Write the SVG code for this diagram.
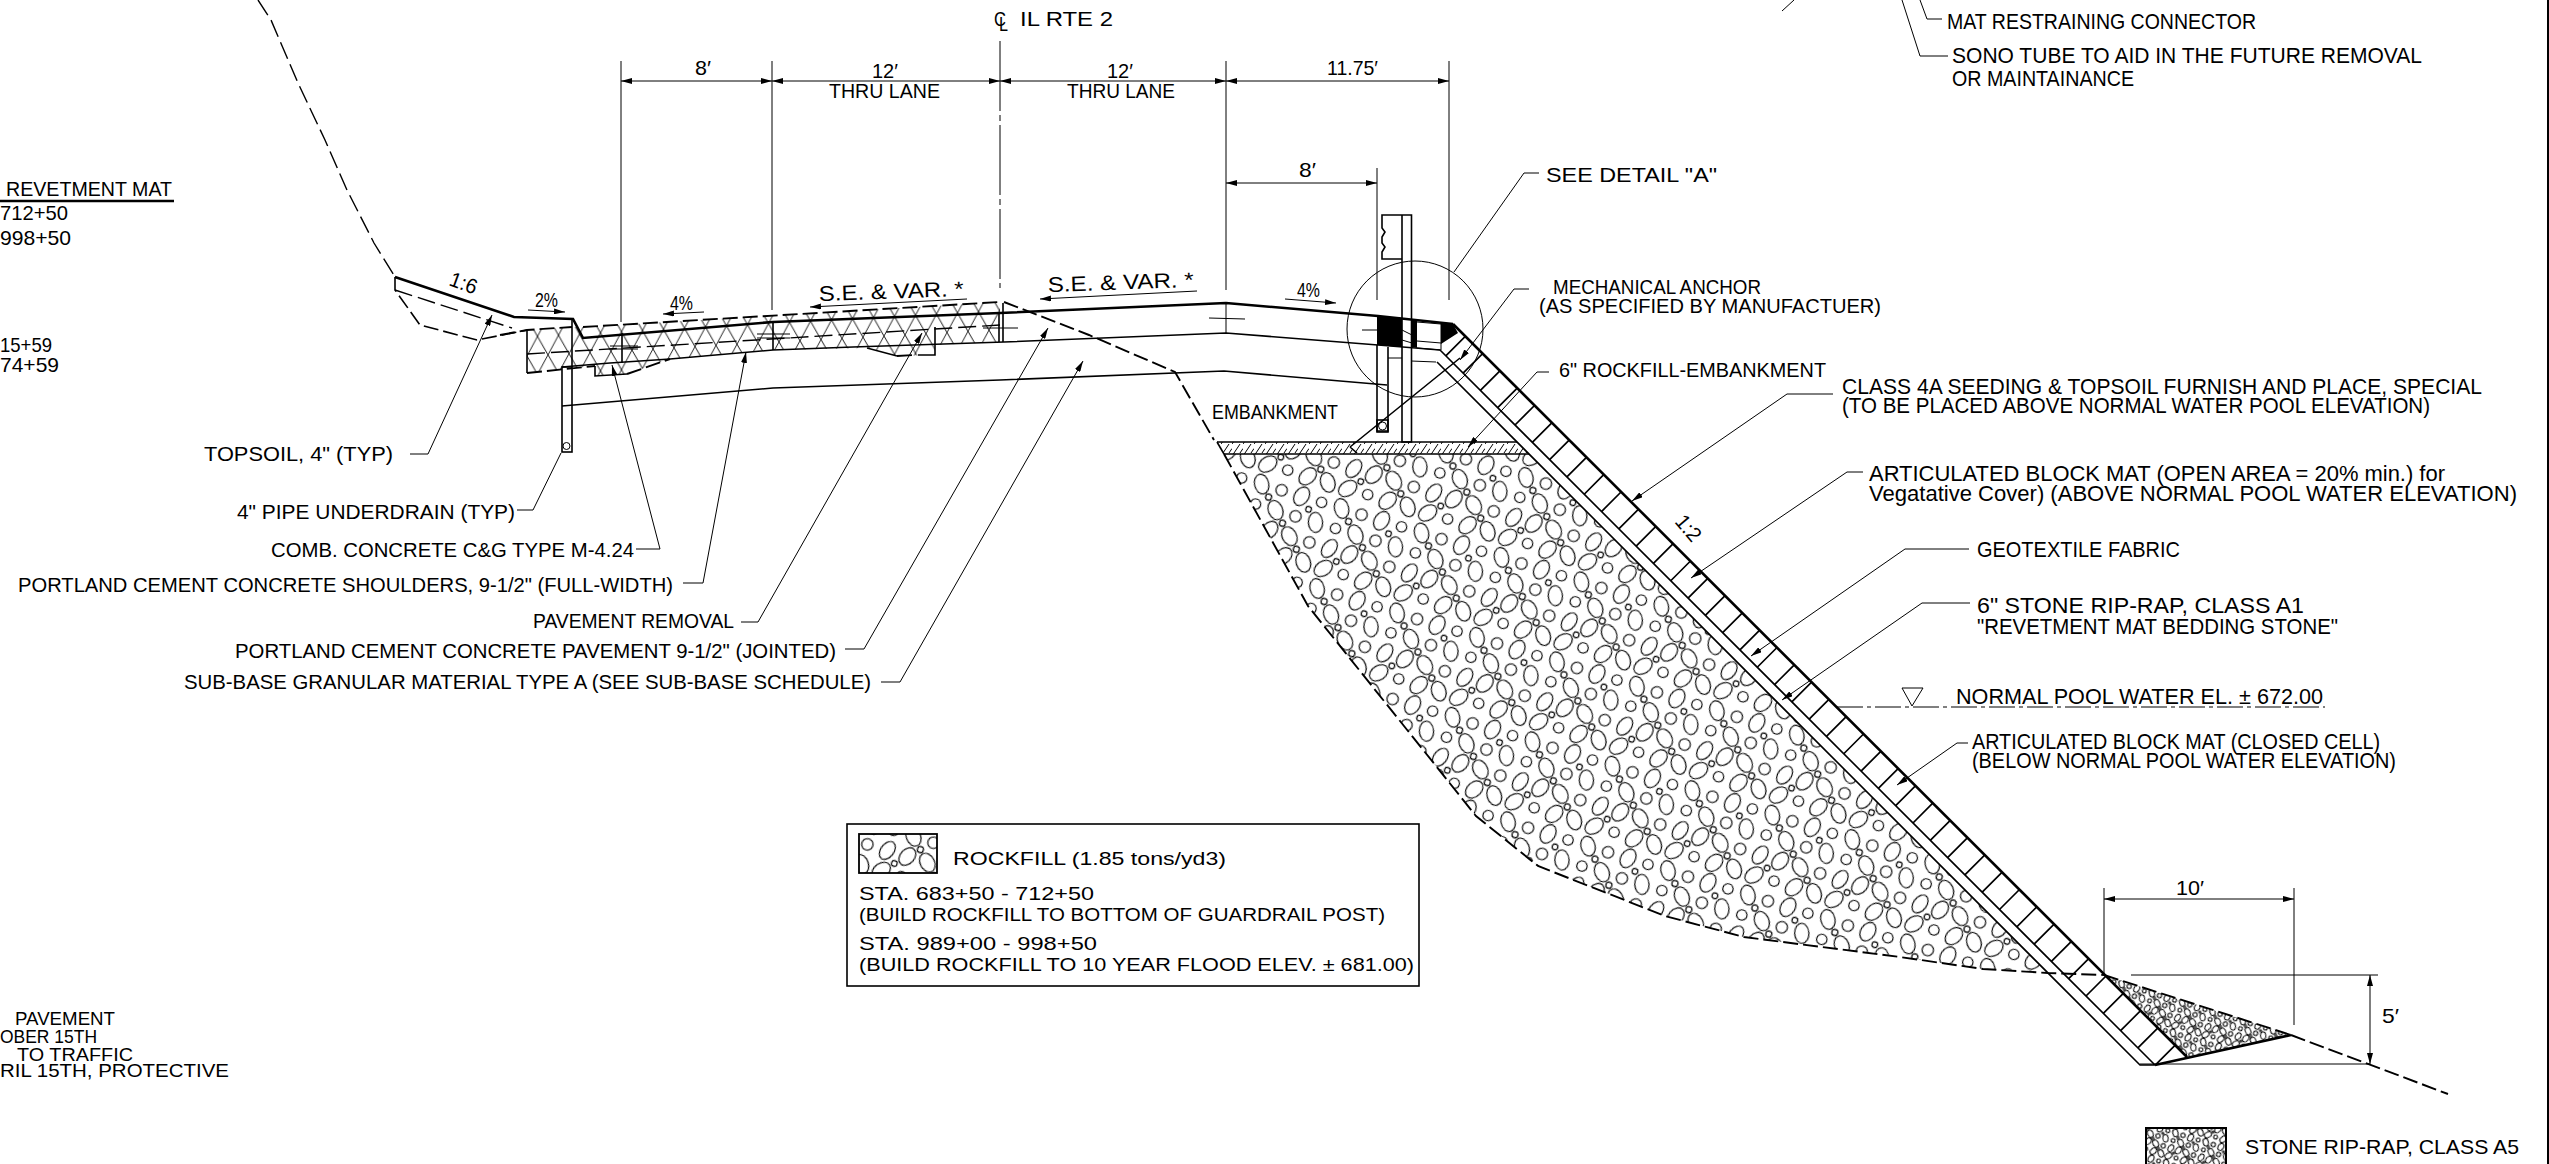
<svg xmlns="http://www.w3.org/2000/svg" width="2549" height="1164" viewBox="0 0 2549 1164">
<style>
text{font-family:"Liberation Sans",Arial,sans-serif;font-size:21px;fill:#000}
.s{font-size:18.5px}
.l{font-size:21.5px}
.n,.m,.b,.d,.dl{fill:none;stroke:#000;stroke-linejoin:miter}
.n{stroke-width:1}
.m{stroke-width:1.6}
.b{stroke-width:2.6}
.d{stroke-width:1.9;stroke-dasharray:15 5}
.dl{stroke-width:1.4;stroke-dasharray:18 6}
.ar{marker-end:url(#a)}
.dim{marker-start:url(#a);marker-end:url(#a)}
</style>
<defs>
<marker id="a" markerUnits="userSpaceOnUse" markerWidth="12" markerHeight="6" refX="11" refY="3" orient="auto-start-reverse"><path d="M0,0L11,3L0,6z"/></marker>
<g id="rocks" fill="none">
<ellipse cx="11" cy="11" rx="7.5" ry="10.5" transform="rotate(-30 11 11)"/>
<circle cx="33" cy="11" r="6"/>
<ellipse cx="55" cy="11" rx="7.5" ry="10.5" transform="rotate(15 55 11)"/>
<circle cx="77" cy="11" r="5.5"/>
<circle cx="11" cy="33" r="5.5"/>
<ellipse cx="33" cy="33" rx="7.5" ry="10.5" transform="rotate(-40 33 33)"/>
<circle cx="55" cy="33" r="6"/>
<ellipse cx="77" cy="33" rx="7.5" ry="10.5" transform="rotate(-20 77 33)"/>
<ellipse cx="11" cy="55" rx="7" ry="10.5" transform="rotate(20 11 55)"/>
<ellipse cx="33" cy="55" rx="7.5" ry="10.5" transform="rotate(25 33 55)"/>
<ellipse cx="55" cy="55" rx="7.5" ry="10.5" transform="rotate(-45 55 55)"/>
<circle cx="77" cy="55" r="6"/>
<ellipse cx="11" cy="77" rx="7.5" ry="10.5" transform="rotate(40 11 77)"/>
<circle cx="33" cy="77" r="5.5"/>
<ellipse cx="55" cy="77" rx="7.5" ry="10.5" transform="rotate(30 55 77)"/>
<ellipse cx="77" cy="77" rx="7.5" ry="10.5" transform="rotate(-35 77 77)"/>
<circle cx="22" cy="22" r="3.2"/><circle cx="66" cy="22" r="3"/><circle cx="44" cy="44" r="3.2"/><circle cx="22" cy="66" r="3"/><circle cx="66" cy="66" r="3.2"/>
</g>
<pattern id="rock" width="88" height="88" patternUnits="userSpaceOnUse" patternTransform="rotate(17) scale(.95)"><use href="#rocks" stroke="#000" stroke-width="1.2"/></pattern>
<pattern id="rip" width="88" height="88" patternUnits="userSpaceOnUse" patternTransform="scale(.36) rotate(17)"><use href="#rocks" stroke="#000" stroke-width="2.8"/></pattern>
<pattern id="tri" width="21" height="38" patternUnits="userSpaceOnUse" patternTransform="translate(527 318) skewY(-3.2)"><path d="M0,0L21,38M21,0L0,38" stroke="#000" stroke-width=".9" fill="none"/></pattern>
<pattern id="hatch" width="11" height="12" patternUnits="userSpaceOnUse"><path d="M0,12L8,0M11,4.5L8,9M-3,4.5L-6,9" stroke="#000" stroke-width="1" fill="none"/></pattern>
</defs>
<rect width="2549" height="1164" fill="#fff"/>

<g id="pavement-section">
<polygon points="527,330 572,327 583,327 1000,302 1000,342 935,345 935,355 897,356 867,348 773,350 670,359 627,374 595,376 595,366 527,373" fill="url(#tri)"/>
<polyline class="dl" points="258,0 271,20 298,83 325,140 347,190 374,243 395,277"/>
<polyline class="b" points="395,277 514,317 573,319 583,338 773,322 1000,313 1226,303 1378,316 1453,324"/>
<polyline class="m" points="395,277 395,290 420,325 477,340 528,330" stroke-dasharray="15 5"/>
<polyline class="dl" points="395,290 512,328"/>
<polyline class="d" points="500,335 527,330 572,327"/>
<polyline class="d" points="583,327 1000,302"/>
<polyline class="dl" points="527,354 1000,325"/>
<polyline class="m" points="527,330 527,373"/>
<polyline class="d" points="527,373 595,366"/>
<polyline class="m" points="562,367 610,363 670,359 773,350 853,347 1004,342 1226,333 1378,345 1440,350"/>
<polyline class="m" points="595,366 595,376 627,374"/>
<polyline class="d" points="627,374 670,359"/>
<polyline class="m" points="867,348 897,356"/>
<polyline class="d" points="897,356 915,355"/>
<polyline class="m" points="918,355 935,355 935,327"/>
<path class="m" d="M622,333V363M773,322V350M999,313V342M1003,303V342"/>
<path class="n" d="M610,346H638M610,349H638M757,334H790M757,338H790M983,328H1018M1209,318L1245,319M1362,330H1378"/>
<polyline class="m" points="562,406 773,388 1000,380 1224,371 1387,385"/>
<polyline class="d" points="1004,302 1089,335 1175,372 1214,440"/>
<rect class="m" x="562" y="367" width="10" height="85"/>
<path class="m" d="M572,319V367"/>
<circle class="n" cx="566.5" cy="446" r="3.5"/>
</g>

<g id="guardrail">
<path class="m" d="M1402,215H1411.5V442H1402zM1402,215H1382V228L1385,232L1382,237V243L1385,247L1382,252V259H1402"/>
<path class="m" d="M1377,345V431H1388V347"/>
<rect class="m" x="1377" y="420" width="11" height="12"/>
<circle class="n" cx="1382.5" cy="426" r="4"/>
<path d="M1377,316L1402,318V347L1377,345zM1412,320L1417,321V348L1412,347zM1441,323L1453,324L1458,333L1441,344z"/>
<path class="n" d="M1417,322L1441,324V350L1417,348M1402,330L1412,335M1402,340L1412,343M1417,341L1441,343M1388,358H1402M1411,361L1436,362"/>
<circle class="n" cx="1415" cy="329" r="68"/>
<path class="m" d="M1350,447L1460,358M1350,447L1357,453"/>
</g>

<g id="slope-mat">
<polygon points="1217,442 1517,442 1529,454 1224,454" fill="url(#hatch)"/>
<path class="m" d="M1217,442H1517M1224,454H1529"/>
<path class="m" d="M1217,442L1224,454"/>
<polygon points="1224,454 1529,454 2048,973 1983,969 1900,957 1744,937 1665,916 1538,866 1476,816 1308,606" fill="url(#rock)"/>
<polyline class="d" points="1224,454 1308,606 1476,816 1538,866 1665,916 1744,937 1900,957 1983,969 2048,973 2104,975"/>
<polygon points="2104,975 2291,1035 2187,1057" fill="url(#rip)"/>
<path class="d" d="M2104,975L2291,1035"/>
<path class="b" d="M2155,1065L2291,1035"/>
<path class="m" d="M1440,350L2155,1065M1437,362L2140,1065H2155"/>
<line x1="1455.2" y1="345.2" x2="2172" y2="1062" stroke="#000" stroke-width="28.3" stroke-dasharray="1.7 22.77"/>
<path class="b" d="M1453,324L2187,1057"/>
<path class="d" d="M2291,1035L2448,1094"/>
<polygon class="n" points="1902,688 1923,688 1912,706"/>
<line class="n" x1="1837" y1="707" x2="2325" y2="707" stroke-dasharray="26 4 4 4"/>
</g>

<g id="connectors">
<path class="n" d="M621,61V322M772,61V310M1226,61V290M1226,303V333M1449,61V300M1377,168V300M2104,888V975M2294,888V1025M2131,975H2378M2140,1064H2370"/>
<line class="n" x1="1000" y1="41" x2="1000" y2="288" stroke-dasharray="70 4 6 4"/>
<path class="n dim" d="M621,81H772"/><path class="n dim" d="M772,81H1000"/><path class="n dim" d="M1000,81H1226"/><path class="n dim" d="M1226,81H1449"/>
<path class="n dim" d="M1226,183H1377"/><path class="n dim" d="M2104,899H2294"/><path class="n dim" d="M2370,975V1064"/>
<path class="n ar" d="M528,310L565,312"/><path class="n ar" d="M704,312L663,314"/><path class="n ar" d="M967,299L810,307"/><path class="n ar" d="M1197,291L1040,299"/><path class="n ar" d="M1285,299L1336,303"/>
<polyline class="n ar" points="410,454 428,454 492,315"/>
<polyline class="n" points="517,510 533,510 561,453"/>
<polyline class="n ar" points="636,549 660,549 612,365"/>
<polyline class="n ar" points="683,583 703,583 746,352"/>
<polyline class="n ar" points="741,622 758,622 922,333"/>
<polyline class="n ar" points="845,649 864,649 1048,328"/>
<polyline class="n ar" points="881,682 900,682 1083,361"/>
<polyline class="n" points="1539,173 1524,173 1454,272"/>
<polyline class="n ar" points="1529,289 1514,289 1460,360"/>
<polyline class="n ar" points="1549,372 1537,372 1468,447"/>
<polyline class="n ar" points="1833,394 1787,394 1632,501"/>
<polyline class="n ar" points="1863,472 1847,472 1691,578"/>
<polyline class="n ar" points="1969,549 1905,549 1751,656"/>
<polyline class="n ar" points="1970,603 1922,603 1782,700"/>
<polyline class="n ar" points="1968,743 1957,743 1897,785"/>
<path class="n" d="M1782,11L1794,0M1920,0L1927,19H1942M1902,0L1920,56H1948"/>
<path class="b" d="M0,201H174"/>
<line x1="2548" y1="0" x2="2548" y2="1164" stroke="#000" stroke-width="2"/>
</g>

<g id="legend-rockfill">
<rect class="m" x="847" y="824" width="572" height="162"/>
<rect x="859" y="834" width="78" height="39" fill="url(#rock)" stroke="#000" stroke-width="1.8"/>
<text class="s" x="953" y="865" textLength="273" lengthAdjust="spacingAndGlyphs">ROCKFILL (1.85 tons/yd3)</text>
<text class="s" x="859" y="900" textLength="235" lengthAdjust="spacingAndGlyphs">STA. 683+50 - 712+50</text>
<text class="s" x="859" y="921" textLength="526" lengthAdjust="spacingAndGlyphs">(BUILD ROCKFILL TO BOTTOM OF GUARDRAIL POST)</text>
<text class="s" x="859" y="950" textLength="238" lengthAdjust="spacingAndGlyphs">STA. 989+00 - 998+50</text>
<text class="s" x="859" y="971" textLength="555" lengthAdjust="spacingAndGlyphs">(BUILD ROCKFILL TO 10 YEAR FLOOD ELEV. ± 681.00)</text>
</g>

<g id="legend-riprap">
<rect x="2146" y="1128" width="80" height="38" fill="url(#rip)" stroke="#000" stroke-width="2"/>
<text x="2245" y="1154" textLength="274" lengthAdjust="spacingAndGlyphs">STONE RIP-RAP, CLASS A5</text>
</g>

<g id="labels">
<text x="994" y="26" textLength="12" lengthAdjust="spacingAndGlyphs">C</text>
<text x="999" y="31" textLength="9" lengthAdjust="spacingAndGlyphs">L</text>
<text x="1020" y="26" textLength="93" lengthAdjust="spacingAndGlyphs">IL RTE 2</text>
<text x="695" y="75" textLength="16" lengthAdjust="spacingAndGlyphs">8′</text>
<text x="872" y="78" textLength="26" lengthAdjust="spacingAndGlyphs">12′</text>
<text x="829" y="98" textLength="111" lengthAdjust="spacingAndGlyphs">THRU LANE</text>
<text x="1107" y="78" textLength="26" lengthAdjust="spacingAndGlyphs">12′</text>
<text x="1067" y="98" textLength="108" lengthAdjust="spacingAndGlyphs">THRU LANE</text>
<text x="1327" y="75" textLength="51" lengthAdjust="spacingAndGlyphs">11.75′</text>
<text x="1299" y="177" textLength="17" lengthAdjust="spacingAndGlyphs">8′</text>
<text x="1546" y="182" textLength="171" lengthAdjust="spacingAndGlyphs">SEE DETAIL "A"</text>
<text x="1553" y="294" textLength="208" lengthAdjust="spacingAndGlyphs">MECHANICAL ANCHOR</text>
<text x="1539" y="313" textLength="342" lengthAdjust="spacingAndGlyphs">(AS SPECIFIED BY MANUFACTUER)</text>
<text x="1559" y="377" textLength="267" lengthAdjust="spacingAndGlyphs">6" ROCKFILL-EMBANKMENT</text>
<text x="1212" y="419" textLength="126" lengthAdjust="spacingAndGlyphs">EMBANKMENT</text>
<text x="1297" y="297" textLength="23" lengthAdjust="spacingAndGlyphs">4%</text>
<text x="670" y="310" textLength="23" lengthAdjust="spacingAndGlyphs">4%</text>
<text x="535" y="307" textLength="23" lengthAdjust="spacingAndGlyphs">2%</text>
<text transform="translate(819 301) rotate(-2)" textLength="145" lengthAdjust="spacingAndGlyphs">S.E. &amp; VAR. *</text>
<text transform="translate(1048 292) rotate(-2)" textLength="146" lengthAdjust="spacingAndGlyphs">S.E. &amp; VAR. *</text>
<text transform="translate(448 285) rotate(20)" textLength="28" lengthAdjust="spacingAndGlyphs">1:6</text>
<text transform="translate(1674 522) rotate(50)" textLength="28" lengthAdjust="spacingAndGlyphs">1:2</text>
<text x="6" y="196" textLength="166" lengthAdjust="spacingAndGlyphs">REVETMENT MAT</text>
<text x="0" y="220" textLength="68" lengthAdjust="spacingAndGlyphs">712+50</text>
<text x="0" y="245" textLength="71" lengthAdjust="spacingAndGlyphs">998+50</text>
<text x="0" y="352" textLength="52" lengthAdjust="spacingAndGlyphs">15+59</text>
<text x="0" y="372" textLength="59" lengthAdjust="spacingAndGlyphs">74+59</text>
<text x="204" y="461" textLength="189" lengthAdjust="spacingAndGlyphs">TOPSOIL, 4" (TYP)</text>
<text x="237" y="519" textLength="278" lengthAdjust="spacingAndGlyphs">4" PIPE UNDERDRAIN (TYP)</text>
<text x="271" y="557" textLength="363" lengthAdjust="spacingAndGlyphs">COMB. CONCRETE C&amp;G TYPE M-4.24</text>
<text x="18" y="592" textLength="655" lengthAdjust="spacingAndGlyphs">PORTLAND CEMENT CONCRETE SHOULDERS, 9-1/2" (FULL-WIDTH)</text>
<text x="533" y="628" textLength="201" lengthAdjust="spacingAndGlyphs">PAVEMENT REMOVAL</text>
<text x="235" y="658" textLength="601" lengthAdjust="spacingAndGlyphs">PORTLAND CEMENT CONCRETE PAVEMENT 9-1/2" (JOINTED)</text>
<text x="184" y="689" textLength="687" lengthAdjust="spacingAndGlyphs">SUB-BASE GRANULAR MATERIAL TYPE A (SEE SUB-BASE SCHEDULE)</text>
<text class="s" x="15" y="1025" textLength="100" lengthAdjust="spacingAndGlyphs">PAVEMENT</text>
<text class="s" x="0" y="1043" textLength="97" lengthAdjust="spacingAndGlyphs">OBER 15TH</text>
<text class="s" x="17" y="1061" textLength="116" lengthAdjust="spacingAndGlyphs">TO TRAFFIC</text>
<text class="s" x="0" y="1077" textLength="229" lengthAdjust="spacingAndGlyphs">RIL 15TH, PROTECTIVE</text>
<text class="l" x="1947" y="29" textLength="309" lengthAdjust="spacingAndGlyphs">MAT RESTRAINING CONNECTOR</text>
<text class="l" x="1952" y="63" textLength="470" lengthAdjust="spacingAndGlyphs">SONO TUBE TO AID IN THE FUTURE REMOVAL</text>
<text class="l" x="1952" y="86" textLength="182" lengthAdjust="spacingAndGlyphs">OR MAINTAINANCE</text>
<text class="l" x="1842" y="394" textLength="640" lengthAdjust="spacingAndGlyphs">CLASS 4A SEEDING &amp; TOPSOIL FURNISH AND PLACE, SPECIAL</text>
<text class="l" x="1842" y="413" textLength="588" lengthAdjust="spacingAndGlyphs">(TO BE PLACED ABOVE NORMAL WATER POOL ELEVATION)</text>
<text class="l" x="1869" y="481" textLength="576" lengthAdjust="spacingAndGlyphs">ARTICULATED BLOCK MAT (OPEN AREA = 20% min.) for</text>
<text class="l" x="1869" y="501" textLength="648" lengthAdjust="spacingAndGlyphs">Vegatative Cover) (ABOVE NORMAL POOL WATER ELEVATION)</text>
<text class="l" x="1977" y="557" textLength="203" lengthAdjust="spacingAndGlyphs">GEOTEXTILE FABRIC</text>
<text class="l" x="1977" y="613" textLength="327" lengthAdjust="spacingAndGlyphs">6" STONE RIP-RAP, CLASS A1</text>
<text class="l" x="1977" y="634" textLength="361" lengthAdjust="spacingAndGlyphs">"REVETMENT MAT BEDDING STONE"</text>
<text class="l" x="1956" y="704" textLength="367" lengthAdjust="spacingAndGlyphs">NORMAL POOL WATER EL. ± 672.00</text>
<text class="l" x="1972" y="749" textLength="408" lengthAdjust="spacingAndGlyphs">ARTICULATED BLOCK MAT (CLOSED CELL)</text>
<text class="l" x="1972" y="768" textLength="424" lengthAdjust="spacingAndGlyphs">(BELOW NORMAL POOL WATER ELEVATION)</text>
<text x="2176" y="895" textLength="28" lengthAdjust="spacingAndGlyphs">10′</text>
<text x="2382" y="1023" textLength="17" lengthAdjust="spacingAndGlyphs">5′</text>
</g>
</svg>
